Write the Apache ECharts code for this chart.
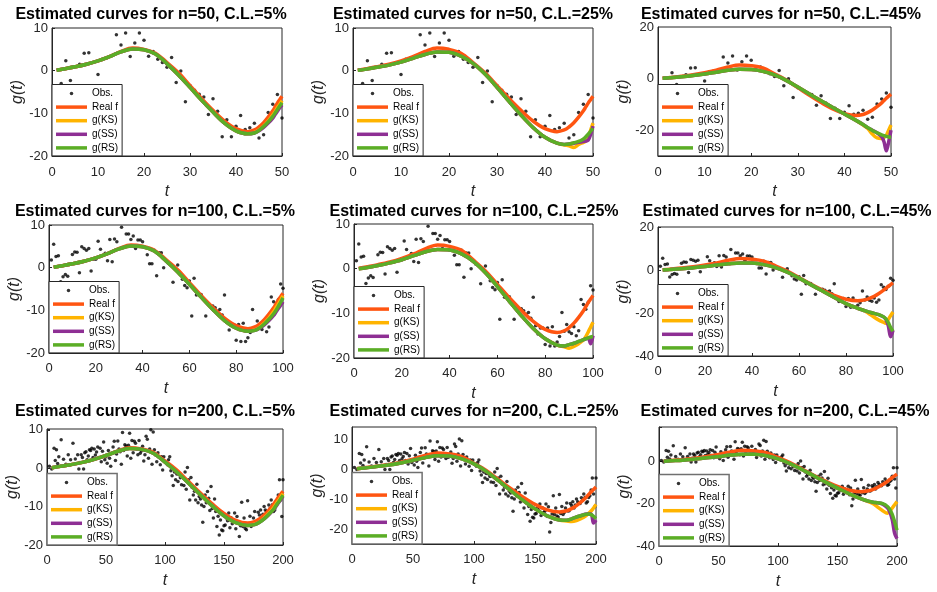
<!DOCTYPE html>
<html><head><meta charset="utf-8">
<script src="https://cdn.jsdelivr.net/npm/echarts@6/dist/echarts.min.js"></script>
<style>html,body{margin:0;padding:0;background:#fff}#c{width:937px;height:592px}</style>
</head><body><div id="c"></div>
<script>
// ---------- DATA ----------
const seriesNames = ['Obs.', 'Real f', 'g(KS)', 'g(SS)', 'g(RS)'];
// curve knots as fraction of n (t = u * n)
const uKnots = [0.02,0.05,0.1,0.15,0.2,0.25,0.3,0.35,0.4,0.45,0.5,0.55,0.6,0.65,0.7,0.75,0.8,0.85,0.88,0.9,0.92,0.94,0.96,0.97,0.98,0.99,1.0];
const realF = [0.1,0.4,0.9,1.5,2.3,3.3,4.5,5.3,5.0,4.1,1.9,-0.5,-3.5,-6.5,-9.3,-11.8,-13.6,-14.3,-13.9,-13.2,-12.2,-10.9,-9.4,-8.5,-7.6,-6.8,-6.0];

// n = 50
const KS_50_5  = [0.1,0.4,0.9,1.5,2.3,3.3,4.4,5.1,4.9,3.9,1.6,-1.0,-3.9,-6.9,-9.7,-12.3,-14.1,-14.8,-14.5,-13.9,-13.0,-11.8,-10.4,-9.6,-8.7,-7.9,-7.0];
const SS_50_5  = [0.1,0.4,0.9,1.5,2.3,3.3,4.4,5.1,4.9,3.9,1.6,-1.0,-3.9,-6.9,-9.7,-12.3,-14.1,-14.8,-14.6,-14.1,-13.3,-12.3,-11.1,-10.3,-9.5,-8.7,-8.0];
const RS_50_5  = [0.1,0.4,0.9,1.5,2.3,3.3,4.4,5.1,4.9,3.9,1.6,-1.0,-3.9,-6.9,-9.7,-12.3,-14.1,-14.8,-14.6,-14.0,-13.1,-12.0,-10.7,-9.9,-9.1,-8.3,-7.5];
const KS_50_25 = [0.1,0.3,0.8,1.3,2.0,2.9,3.8,4.4,4.3,3.4,1.7,-0.8,-3.9,-7.2,-10.4,-13.3,-15.6,-17.0,-17.4,-17.6,-18.0,-17.3,-16.8,-16.5,-15.5,-14.0,-12.3];
const SS_50_25 = [0.1,0.3,0.8,1.3,2.0,2.9,3.8,4.4,4.3,3.4,1.7,-0.8,-3.9,-7.2,-10.4,-13.3,-15.6,-17.0,-17.3,-17.2,-17.0,-16.8,-16.6,-16.5,-16.3,-15.0,-13.0];
const RS_50_25 = [0.1,0.3,0.8,1.3,2.0,2.9,3.8,4.4,4.3,3.4,1.7,-0.8,-3.9,-7.2,-10.4,-13.3,-15.6,-17.0,-17.3,-17.2,-16.9,-16.6,-16.0,-15.5,-14.9,-14.2,-13.5];
const KS_50_45 = [0.1,0.3,0.7,1.2,1.8,2.5,3.2,3.6,3.5,2.8,1.4,-0.7,-3.3,-6.0,-8.6,-11.2,-13.7,-16.2,-18.0,-19.3,-21.5,-23.0,-23.2,-22.8,-22.0,-20.0,-18.0];
const SS_50_45 = [0.1,0.3,0.7,1.2,1.8,2.5,3.2,3.6,3.5,2.8,1.4,-0.7,-3.3,-6.0,-8.6,-11.2,-13.7,-16.2,-17.8,-19.0,-20.0,-21.0,-22.5,-24.5,-28.0,-24.5,-20.0];
const RS_50_45 = [0.1,0.3,0.7,1.2,1.8,2.5,3.2,3.6,3.5,2.8,1.4,-0.7,-3.3,-6.0,-8.6,-11.2,-13.7,-16.2,-17.8,-19.0,-20.1,-21.0,-21.8,-22.1,-22.4,-22.6,-22.7];

// n = 100
const KS_100_5  = [0.1,0.4,0.9,1.5,2.3,3.3,4.4,5.1,4.9,3.9,1.6,-1.0,-3.9,-6.9,-9.8,-12.4,-14.2,-14.9,-14.6,-14.0,-13.0,-11.8,-10.3,-9.4,-8.5,-7.6,-6.6];
const SS_100_5  = [0.1,0.4,0.9,1.5,2.3,3.3,4.4,5.1,4.9,3.9,1.6,-1.0,-3.9,-6.9,-9.8,-12.4,-14.2,-14.9,-14.7,-14.2,-13.4,-12.4,-11.2,-10.4,-9.6,-8.8,-8.0];
const RS_100_5  = [0.1,0.4,0.9,1.5,2.3,3.3,4.4,5.1,4.9,3.9,1.6,-1.0,-3.9,-6.9,-9.8,-12.4,-14.2,-14.9,-14.7,-14.1,-13.2,-12.1,-10.8,-10.0,-9.1,-8.1,-7.1];
const KS_100_25 = [0.0,0.2,0.7,1.3,2.0,2.9,3.8,4.3,4.2,3.3,1.6,-0.9,-4.0,-7.3,-10.5,-13.4,-15.7,-17.1,-17.5,-17.8,-17.4,-16.8,-16.0,-15.2,-14.2,-13.1,-12.0];
const SS_100_25 = [0.0,0.2,0.7,1.3,2.0,2.9,3.8,4.3,4.2,3.3,1.6,-0.9,-4.0,-7.3,-10.5,-13.4,-15.7,-17.1,-17.3,-17.0,-16.7,-16.3,-15.9,-15.7,-15.6,-16.8,-15.0];
const RS_100_25 = [0.0,0.2,0.7,1.3,2.0,2.9,3.8,4.3,4.2,3.3,1.6,-0.9,-4.0,-7.3,-10.5,-13.4,-15.7,-17.1,-17.3,-17.0,-16.7,-16.3,-15.9,-15.7,-15.5,-15.3,-15.2];
const KS_100_45 = [0.0,0.2,0.6,1.1,1.6,2.3,2.9,3.3,3.2,2.5,1.1,-1.0,-3.8,-6.8,-9.8,-12.8,-15.6,-17.8,-19.0,-20.5,-22.0,-23.3,-24.3,-24.8,-23.0,-21.2,-19.5];
const SS_100_45 = [0.0,0.2,0.6,1.1,1.6,2.3,2.9,3.3,3.2,2.5,1.1,-1.0,-3.8,-6.8,-9.8,-12.8,-15.6,-17.8,-18.9,-19.6,-20.2,-20.8,-21.8,-23.0,-26.0,-31.0,-28.0];
const RS_100_45 = [0.0,0.2,0.6,1.1,1.6,2.3,2.9,3.3,3.2,2.5,1.1,-1.0,-3.8,-6.8,-9.8,-12.8,-15.6,-17.8,-18.9,-19.6,-20.2,-20.8,-21.8,-22.8,-24.5,-26.8,-28.5];

// n = 200
const KS_200_5  = [0.1,0.4,0.9,1.5,2.3,3.3,4.4,5.1,4.9,3.9,1.6,-1.0,-3.9,-6.9,-9.8,-12.4,-14.2,-14.9,-14.6,-14.0,-13.0,-11.8,-10.3,-9.4,-8.5,-7.6,-6.6];
const SS_200_5  = [0.1,0.4,0.9,1.5,2.3,3.3,4.4,5.1,4.9,3.9,1.6,-1.0,-3.9,-6.9,-9.8,-12.4,-14.2,-14.9,-14.7,-14.1,-13.2,-12.1,-10.8,-10.0,-9.1,-8.2,-7.3];
const RS_200_5  = [0.1,0.4,0.9,1.5,2.3,3.3,4.4,5.1,4.9,3.9,1.6,-1.0,-3.9,-6.9,-9.8,-12.4,-14.2,-14.9,-14.7,-14.1,-13.2,-12.0,-10.7,-9.8,-8.9,-8.0,-7.0];
const KS_200_25 = [0.1,0.3,0.8,1.3,2.0,2.9,3.8,4.4,4.3,3.4,1.7,-0.8,-3.9,-7.2,-10.4,-13.3,-15.6,-17.0,-17.3,-17.5,-17.2,-16.5,-15.5,-14.8,-14.0,-13.0,-11.8];
const SS_200_25 = [0.1,0.3,0.8,1.3,2.0,2.9,3.8,4.4,4.3,3.4,1.7,-0.8,-3.9,-7.2,-10.4,-13.3,-15.6,-17.0,-17.1,-16.6,-16.0,-15.5,-15.0,-15.0,-15.0,-18.0,-17.0];
const RS_200_25 = [0.1,0.3,0.8,1.3,2.0,2.9,3.8,4.4,4.3,3.4,1.7,-0.8,-3.9,-7.2,-10.4,-13.3,-15.6,-17.0,-17.1,-16.6,-16.0,-15.5,-15.1,-15.0,-15.2,-15.8,-16.5];
const KS_200_45 = [0.1,0.3,0.6,1.1,1.7,2.3,3.0,3.4,3.4,2.7,1.2,-1.0,-3.8,-6.8,-9.8,-12.6,-15.3,-17.7,-19.0,-20.0,-21.7,-23.3,-24.5,-23.5,-22.0,-20.5,-19.0];
const SS_200_45 = [0.1,0.3,0.6,1.1,1.7,2.3,3.0,3.4,3.4,2.7,1.2,-1.0,-3.8,-6.8,-9.8,-12.6,-15.3,-17.7,-18.8,-19.3,-19.6,-20.2,-22.0,-24.0,-27.5,-34.0,-36.5];
const RS_200_45 = [0.1,0.3,0.6,1.1,1.7,2.3,3.0,3.4,3.4,2.7,1.2,-1.0,-3.8,-6.8,-9.8,-12.6,-15.3,-17.7,-18.8,-19.3,-19.6,-20.0,-21.3,-22.8,-25.0,-28.5,-32.5];

// observations
const obsT50 = [2,3,4,6,7,8,10,11,12,14,15,16,17,18,19,20,21,22,23,24,25,26,27,28,29,30,31,32,33,34,35,36,37,38,39,40,41,42,43,44,45,46,47,48,49,50];
const obsV50 = [-3.0,2.3,-2.3,1.5,4.1,4.2,-0.9,2.7,3.0,8.4,6.0,8.8,3.3,6.5,8.8,7.1,3.4,4.5,2.7,1.9,0.8,3.1,-2.8,-0.1,-7.3,-3.5,-4.6,-5.5,-6.2,-10.3,-6.6,-9.5,-15.5,-11.5,-15.5,-13.0,-10.5,-13.8,-13.4,-12.3,-15.8,-15.0,-9.8,-7.9,-5.6,-11.1];

const obsT100 = [1,2,3,4,5,6,7,8,10,11,12,13,14,15,16,17,18,19,20,21,22,24,25,26,27,28,29,31,33,34,35,36,37,38,39,40,42,43,44,45,46,47,48,49,51,53,55,57,58,59,60,61,62,63,65,67,69,70,71,72,73,74,75,76,77,78,79,80,81,82,83,84,85,86,87,88,89,90,91,92,93,94,95,96,97,98,99,100];
const obsV100 = [1.8,5.5,2.6,2.8,-3.3,-2.1,-1.6,-2.0,3.1,3.7,3.6,-1.2,4.9,4.5,4.1,4.5,-0.8,2.0,2.0,6.2,4.3,3.4,1.6,6.6,1.4,6.7,6.1,9.5,7.9,7.9,6.6,7.4,4.5,6.5,6.5,6.1,3.0,0.9,0.9,4.1,-1.9,3.5,3.5,0,1.0,-3.4,0.6,-2.7,-4.2,-4.7,-3.1,-11.3,-2.5,-6.4,-6.3,-11.3,-9.0,-9.0,-9.4,-10.2,-9.8,-11.1,-6.4,-12.8,-14.6,-13.3,-13.3,-17.0,-13.3,-17.3,-13.0,-17.3,-16.4,-15.2,-9.8,-14.0,-12.5,-14.1,-14.5,-13.0,-15.0,-13.9,-6.9,-8.0,-9.1,-7.5,-3.8,-4.8];

const obsT200 = [4,6,8,10,12,14,18,22,24,27,29,31,33,34,36,38,39,40,42,44,45,46,48,50,51,53,55,57,59,60,62,64,66,68,70,72,74,75,77,79,81,82,84,86,88,90,91,93,95,96,99,100,102,104,105,107,109,110,112,114,115,117,119,121,122,124,126,127,129,131,132,134,136,137,139,141,143,144,146,148,149,151,153,154,156,158,159,161,163,165,166,168,170,171,173,175,176,178,180,181,183,185,186,188,190,192,193,195,197,198,199,200,
  2,7,9,16,20,26,28,30,32,35,37,41,43,47,49,52,54,56,58,61,63,65,67,69,71,73,76,78,80,83,85,87,89,92,94,97,98,101,103,106,108,111,113,116,118,120,123,125,128,130,133,135,138,140,142,145,147,150,152,155,157,160,162,164,167,169,172,174,177,179,182,184,187,189,191,194,196];
const obsV200 = [-0.2,5.2,4.8,3.0,7.4,2.3,3.5,6.5,2.4,-0.2,3.5,-0.2,4.3,2.2,4.8,5.2,2.8,5.0,4.2,2.8,5.2,1.7,6.8,3.0,1.3,2.6,3.9,7.0,3.7,7.1,4.3,9.3,6.1,3.2,9.1,7.2,7.0,6.5,3.5,3.9,5.7,1.9,8.3,2.6,10.0,9.4,4.8,1.7,2.8,0.9,3.0,1.7,0.9,3.0,-0.7,-4.5,-3.0,-1.5,-1.7,-4.3,-2.4,-1.0,0.2,-8.3,-2.4,-7.0,-8.3,-4.2,-7.4,-9.6,-14.1,-7.0,-6.1,-7.8,-4.8,-13.0,-11.3,-15.2,-17.4,-16.1,-16.3,-14.8,-13.7,-11.7,-12.9,-14.1,-11.7,-12.6,-17.8,-8.9,-15.2,-15.7,-8.5,-14.8,-15.2,-13.0,-11.3,-13.9,-12.2,-10.9,-12.0,-10.9,-11.3,-9.6,-8.3,-11.3,-10.9,-8.9,-3.0,-8.3,-12.6,-3.0,
  0.5,2.0,1.2,1.0,2.2,3.5,1.5,2.8,4.0,3.2,4.6,3.4,5.5,4.4,2.2,4.6,0.5,5.5,2.0,5.0,1.0,4.6,5.8,6.0,2.6,4.0,5.0,7.2,4.5,3.5,7.5,5.0,1.0,3.4,4.0,3.0,-0.5,1.5,2.2,-2.0,-1.0,-3.5,-2.5,-4.5,-5.5,-3.0,-5.0,-6.0,-9.0,-8.0,-10.0,-9.0,-11.0,-10.5,-8.0,-12.5,-13.5,-15.0,-13.0,-15.5,-14.5,-15.8,-21.0,-15.0,-13.0,-16.0,-12.5,-14.5,-14.0,-11.5,-13.0,-10.0,-11.5,-10.5,-9.5,-9.5,-7.0];

// ---------- STYLE / LAYOUT ----------
const FONT = "'Liberation Sans', Arial, Helvetica, sans-serif";
const lineColors = { 'Real f': '#FF5511', 'g(KS)': '#FFB400', 'g(SS)': '#8E2F94', 'g(RS)': '#5BAE26' };

const panels = [
  { n: 50,  xi: 10, cl: '5%',  ks: KS_50_5,   ss: SS_50_5,   rs: RS_50_5,   t: obsT50,  v: obsV50,  y: [-20, 10, 10, 10],   g: [52, 28, 230, 128],  tx: 151, ty: 15,  xm: 10, yTick: true },
  { n: 50,  xi: 10, cl: '25%', ks: KS_50_25,  ss: SS_50_25,  rs: RS_50_25,  t: obsT50,  v: obsV50,  y: [-20, 10, 10, 10],   g: [353, 28, 240, 128], tx: 473, ty: 15,  xm: 10, yTick: true },
  { n: 50,  xi: 10, cl: '45%', ks: KS_50_45,  ss: SS_50_45,  rs: RS_50_45,  t: obsT50,  v: obsV50,  y: [-30, 20, 10, 20],   g: [658, 27, 233, 129], tx: 781, ty: 15,  xm: 10, yTick: false },
  { n: 100, xi: 20, cl: '5%',  ks: KS_100_5,  ss: SS_100_5,  rs: RS_100_5,  t: obsT100, v: obsV100, y: [-20, 10, 10, 10],   g: [49, 225, 234, 128], tx: 155, ty: 212, xm: 9,  yTick: true },
  { n: 100, xi: 20, cl: '25%', ks: KS_100_25, ss: SS_100_25, rs: RS_100_25, t: obsT100, v: obsV100, y: [-20, 10, 10, 10],   g: [354, 224, 239, 134],tx: 474, ty: 212, xm: 9,  yTick: true },
  { n: 100, xi: 20, cl: '45%', ks: KS_100_45, ss: SS_100_45, rs: RS_100_45, t: obsT100, v: obsV100, y: [-40, 20, 20, 20],   g: [658, 227, 235, 129],tx: 787, ty: 212, xm: 9,  yTick: true },
  { n: 200, xi: 50, cl: '5%',  ks: KS_200_5,  ss: SS_200_5,  rs: RS_200_5,  t: obsT200, v: obsV200, y: [-20, 10.2, 10, 10], g: [47, 429, 236, 116], tx: 155, ty: 412, xm: 9,  yTick: true },
  { n: 200, xi: 50, cl: '25%', ks: KS_200_25, ss: SS_200_25, rs: RS_200_25, t: obsT200, v: obsV200, y: [-25, 14, 5, 10],    g: [352, 427, 244, 117],tx: 474, ty: 412, xm: 9,  yTick: false },
  { n: 200, xi: 50, cl: '45%', ks: KS_200_45, ss: SS_200_45, rs: RS_200_45, t: obsT200, v: obsV200, y: [-40, 16.3, 20, 20], g: [659, 427, 238, 119],tx: 785, ty: 412, xm: 9,  yTick: true }
];

const option = { animation: false, title: [], grid: [], xAxis: [], yAxis: [], legend: [], series: [] };

panels.forEach((p, i) => {
  const [gl, gt, gw, gh] = p.g;
  option.title.push({
    text: 'Estimated curves for n=' + p.n + ', C.L.=' + p.cl,
    left: p.tx, top: p.ty, textAlign: 'center', textVerticalAlign: 'middle', padding: 0,
    textStyle: { fontFamily: FONT, fontSize: 16, fontWeight: 'bold', color: '#000' }
  });
  option.grid.push({ left: gl, top: gt, width: gw, height: gh, show: true, borderColor: '#262626', borderWidth: 1, backgroundColor: '#fff' });
  option.xAxis.push({
    gridIndex: i, type: 'value', min: 0, max: p.n, interval: p.xi,
    axisLine: { show: true, onZero: false, lineStyle: { color: '#262626', width: 1 } },
    axisTick: { show: true, inside: true, length: 3, lineStyle: { color: '#262626' } },
    splitLine: { show: false },
    axisLabel: { fontFamily: FONT, fontSize: 13, color: '#262626', margin: p.xm },
    name: 't', nameLocation: 'middle', nameGap: 28,
    nameTextStyle: { fontFamily: FONT, fontSize: 16, fontStyle: 'italic', color: '#262626' }
  });
  const step = p.y[3];
  option.yAxis.push({
    gridIndex: i, type: 'value', min: p.y[0], max: p.y[1], interval: p.y[2],
    axisLine: { show: true, onZero: false, lineStyle: { color: '#262626', width: 1 } },
    axisTick: { show: p.yTick, inside: true, length: 3, lineStyle: { color: '#262626' } },
    splitLine: { show: false },
    axisLabel: { fontFamily: FONT, fontSize: 13, color: '#262626', margin: 4,
      formatter: (val) => (Math.abs(val % step) < 1e-6 ? String(val) : '') },
    name: 'g(t)', nameLocation: 'middle', nameGap: 24,
    nameTextStyle: { fontFamily: FONT, fontSize: 16, fontStyle: 'italic', color: '#262626' }
  });
  const row = Math.floor(i / 3);
  option.legend.push({
    orient: 'vertical', left: gl, top: gt + gh - 71.5,
    itemWidth: 31, itemHeight: 3.5, itemGap: 3.6, padding: [4, 4, 3, 4],
    backgroundColor: '#fff', borderColor: row === 2 ? '#707070' : '#262626', borderWidth: row === 2 ? 1.5 : 1,
    selectedMode: false,
    textStyle: { fontFamily: FONT, fontSize: 10, color: '#000' },
    data: [
      { name: 'Obs.', icon: 'circle', itemStyle: { color: '#000' } },
      { name: 'Real f', icon: 'rect' },
      { name: 'g(KS)', icon: 'rect' },
      { name: 'g(SS)', icon: 'rect' },
      { name: 'g(RS)', icon: 'rect' }
    ]
  });
  option.series.push({
    type: 'scatter', name: 'Obs.', xAxisIndex: i, yAxisIndex: i, silent: true,
    symbol: 'circle', symbolSize: 3.5, itemStyle: { color: '#000' },
    data: p.t.map((t, k) => [t, p.v[k]])
  });
  const curves = [['Real f', realF], ['g(KS)', p.ks], ['g(SS)', p.ss], ['g(RS)', p.rs]];
  curves.forEach(([name, arr]) => {
    option.series.push({
      type: 'line', name, xAxisIndex: i, yAxisIndex: i, silent: true,
      showSymbol: false, smooth: 0.35, clip: true,
      lineStyle: { width: 3.5, color: lineColors[name] }, itemStyle: { color: lineColors[name] },
      data: uKnots.map((u, k) => [u * p.n, arr[k]])
    });
  });
});

const chart = echarts.init(document.getElementById('c'), null, { renderer: 'canvas' });
chart.setOption(option);
</script>
</body></html>
